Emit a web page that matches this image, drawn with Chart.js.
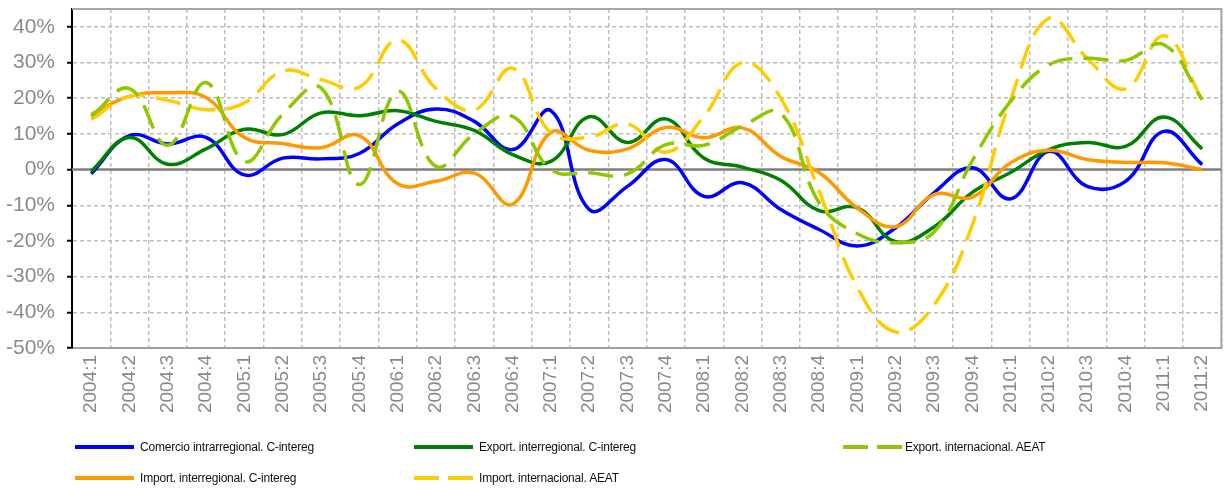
<!DOCTYPE html>
<html>
<head>
<meta charset="utf-8">
<script src="https://cdn.jsdelivr.net/npm/chart.js@4/dist/chart.umd.min.js"></script>
<style>
  body { margin: 0; background: #fff; }
  #wrap { position: relative; width: 1232px; height: 488px; }
  #legend { position: absolute; left: 0; top: 0; width: 1232px; height: 488px; pointer-events: none; }
  .item { position: absolute; height: 16px; font: 12px "Liberation Sans", Arial, sans-serif; letter-spacing: -0.2px; color: #111; white-space: nowrap; }
  .item .seg { position: absolute; top: 6px; height: 4px; }
  .item span.txt { position: absolute; top: 0; line-height: 16px; }
</style>
</head>
<body>
<div id="wrap">
  <canvas id="chart"></canvas>
  <div id="legend"></div>
</div>
<script>
const labels = [
  "2004:1", "2004:2", "2004:3", "2004:4", "2005:1", "2005:2", "2005:3", "2005:4",
  "2006:1", "2006:2", "2006:3", "2006:4", "2007:1", "2007:2", "2007:3", "2007:4",
  "2008:1", "2008:2", "2008:3", "2008:4", "2009:1", "2009:2", "2009:3", "2009:4",
  "2010:1", "2010:2", "2010:3", "2010:4", "2011:1", "2011:2"
];
const yTicks = [-50, -40, -30, -20, -10, 0, 10, 20, 30, 40];

const comercioIntra = [-1.2, 9.5, 7.2, 9.0, -1.5, 3.2, 3.0, 4.5, 12.8, 17.0, 13.5, 5.6, 16.5, -11.2, -4.7, 2.8, -7.5, -3.7, -11.2, -16.8, -21.4, -16.3, -6.5, 0.5, -8.2, 5.1, -4.7, -3.3, 10.7, 1.4];
const exportInter = [-0.5, 9.0, 1.5, 5.8, 11.3, 9.8, 15.9, 15.1, 16.5, 13.5, 11.0, 4.2, 2.3, 14.8, 7.6, 14.2, 3.2, 0.7, -3.0, -11.5, -10.7, -20.2, -16.1, -6.4, -0.8, 5.6, 7.6, 6.5, 14.7, 5.8];
const exportIntl = [14.9, 22.7, 6.8, 24.4, 2.3, 15.5, 22.9, -4.2, 21.9, 0.9, 10.0, 14.9, 0.0, -0.9, -1.2, 7.0, 6.8, 12.2, 15.8, -9.3, -18.0, -20.5, -17.5, 2.5, 19.1, 29.4, 31.2, 30.6, 35.0, 19.6];
const importInter = [15.5, 20.5, 21.5, 20.2, 9.0, 7.3, 6.1, 9.5, -4.0, -3.3, -1.0, -9.7, 10.4, 5.4, 5.8, 11.8, 8.9, 11.7, 3.7, -0.8, -10.8, -16.0, -7.0, -7.7, 1.9, 5.4, 2.8, 2.0, 1.9, 0.0];
const importIntl = [14.0, 20.5, 19.4, 16.8, 18.7, 27.6, 25.2, 23.1, 36.3, 22.7, 16.7, 28.4, 10.3, 9.1, 12.8, 4.9, 15.0, 30.0, 20.0, -6.0, -33.0, -45.5, -38.0, -15.5, 19.6, 42.4, 31.2, 22.6, 37.5, 19.6];

const series = [
  { label: "Comercio intrarregional. C-intereg", data: comercioIntra, color: "#0000ff", dashed: false },
  { label: "Export. interregional. C-intereg", data: exportInter, color: "#008000", dashed: false },
  { label: "Export. internacional. AEAT", data: exportIntl, color: "#8fc800", dashed: true },
  { label: "Import. interregional. C-intereg", data: importInter, color: "#ff9900", dashed: false },
  { label: "Import. internacional. AEAT", data: importIntl, color: "#ffcc00", dashed: true }
];

// draw order: dashed ones under the solid ones like the original
const drawOrder = [2, 4, 3, 1, 0];

const frameLines = {
  id: "frameLines",
  beforeDatasetsDraw(chart) {
    const { ctx, chartArea: a, scales } = chart;
    ctx.save();
    ctx.strokeStyle = "#a6a6a6";
    ctx.lineWidth = 2;
    ctx.beginPath();
    ctx.moveTo(a.left, a.top);
    ctx.lineTo(a.right, a.top);
    ctx.lineTo(a.right, a.bottom);
    ctx.stroke();
    const y0 = scales.y.getPixelForValue(0);
    ctx.strokeStyle = "#808080";
    ctx.lineWidth = 2.5;
    ctx.beginPath();
    ctx.moveTo(a.left, y0);
    ctx.lineTo(a.right, y0);
    ctx.stroke();
    ctx.restore();
  }
};

const ctx = document.getElementById("chart").getContext("2d");
new Chart(ctx, {
  type: "line",
  data: {
    labels: labels,
    datasets: series.map((s, i) => ({
      label: s.label,
      data: s.data,
      borderColor: s.color,
      backgroundColor: s.color,
      borderWidth: 3.5,
      borderDash: s.dashed ? [25, 11] : [],
      pointRadius: 0,
      tension: 0.42,
      fill: false,
      order: drawOrder.indexOf(i)
    }))
  },
  options: {
    responsive: true,
    maintainAspectRatio: false,
    animation: false,
    layout: { padding: { left: 0, right: 1, top: 9, bottom: 0 } },
    plugins: {
      legend: { display: false },
      tooltip: { enabled: false }
    },
    scales: {
      x: {
        offset: true,
        afterFit: (scale) => { scale.height = 140; },
        grid: {
          offset: true,
          color: "#bdbdbd",
          lineWidth: 1.5,
          drawTicks: false
        },
        border: { display: true, color: "#a0a0a0", width: 2, dash: [4, 3] },
        ticks: {
          color: "#8a8a8a",
          font: { family: "'Liberation Sans', Arial, sans-serif", size: 19 },
          minRotation: 90,
          maxRotation: 90,
          autoSkip: false,
          padding: 7
        }
      },
      y: {
        min: -50,
        max: 45,
        afterFit: (scale) => { scale.width = 72; scale.paddingTop = 0; scale.paddingBottom = 0; },
        afterBuildTicks: (scale) => { scale.ticks = yTicks.map(v => ({ value: v })); },
        grid: {
          color: "#bdbdbd",
          lineWidth: 1.5,
          drawTicks: true,
          tickLength: 5,
          tickColor: "#000",
          tickWidth: 2
        },
        border: { display: true, color: "#000", width: 2, dash: [4, 3] },
        ticks: {
          color: "#8a8a8a",
          padding: 12,
          font: { family: "'Liberation Sans', Arial, sans-serif", size: 21 },
          callback: (v) => v + "%"
        }
      }
    }
  },
  plugins: [frameLines]
});

// legend in three columns, two rows
const legendPos = [
  { x: 75, y: 439 }, { x: 414, y: 439 }, { x: 843, y: 439 },
  { x: 75, y: 470 }, { x: 414, y: 470 }
];
const legend = document.getElementById("legend");
series.forEach((s, i) => {
  const item = document.createElement("div");
  item.className = "item";
  item.style.left = legendPos[i].x + "px";
  item.style.top = legendPos[i].y + "px";
  const segs = s.dashed ? [[0, 25], [34, 25]] : [[0, 59]];
  segs.forEach(([x, w]) => {
    const seg = document.createElement("div");
    seg.className = "seg";
    seg.style.left = x + "px";
    seg.style.width = w + "px";
    seg.style.background = s.color;
    item.appendChild(seg);
  });
  const txt = document.createElement("span");
  txt.className = "txt";
  txt.style.left = (s.dashed && i === 2 ? 62 : 65) + "px";
  txt.textContent = s.label;
  item.appendChild(txt);
  legend.appendChild(item);
});
</script>
</body>
</html>
